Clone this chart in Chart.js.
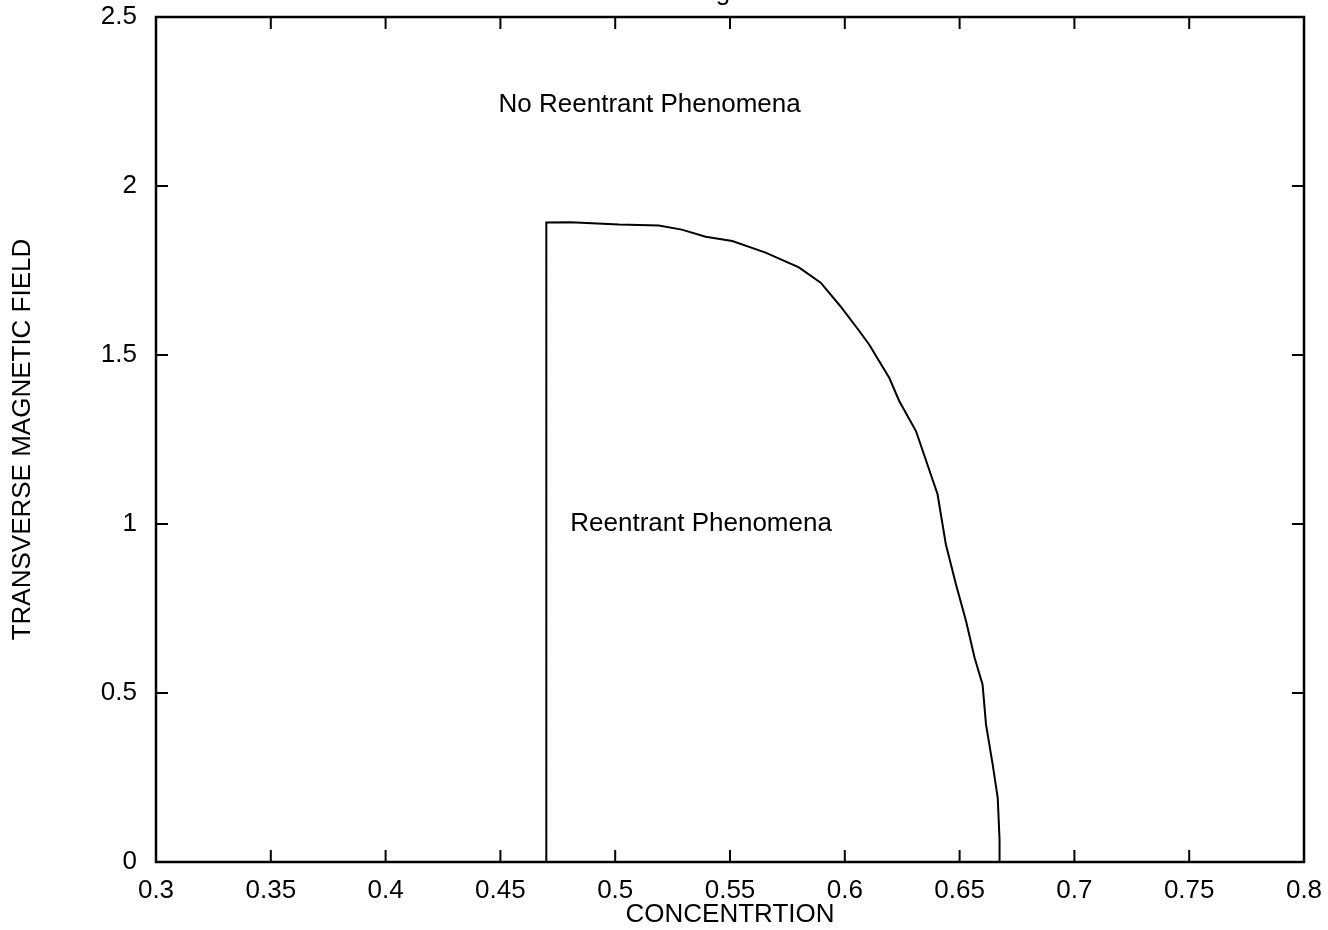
<!DOCTYPE html>
<html lang="en">
<head>
<meta charset="UTF-8" />
<title>Reentrant phase boundary</title>
<script src="https://cdn.jsdelivr.net/npm/chart.js@4"></script>
<style>
  html, body { margin: 0; padding: 0; background: #fff; }
  #wrap { width: 1328px; height: 930px; position: relative; }
</style>
</head>
<body>
<div id="wrap"><canvas id="chart"></canvas></div>
<script>
// Phase boundary (concentration vs field).
const boundaryX = [0.47, 0.47, 0.4805, 0.5016, 0.519, 0.529, 0.5394, 0.551, 0.5655, 0.580, 0.5895,
  0.598, 0.6063, 0.6106, 0.6194, 0.6237, 0.631, 0.6404, 0.644, 0.6484, 0.6528, 0.6565,
  0.66, 0.6615, 0.6644, 0.6666, 0.6674, 0.6674];
const boundaryY = [0, 1.892, 1.893, 1.886, 1.883, 1.871, 1.850, 1.837, 1.803, 1.759, 1.714,
  1.645, 1.571, 1.531, 1.432, 1.364, 1.275, 1.088, 0.940, 0.822, 0.713, 0.605,
  0.525, 0.407, 0.289, 0.190, 0.067, 0];

const xTicks = [0.3, 0.35, 0.4, 0.45, 0.5, 0.55, 0.6, 0.65, 0.7, 0.75, 0.8];
const xTickLabels = ['0.3', '0.35', '0.4', '0.45', '0.5', '0.55', '0.6', '0.65', '0.7', '0.75', '0.8'];
const yTicks = [0, 0.5, 1, 1.5, 2, 2.5];
const yTickLabels = ['0', '0.5', '1', '1.5', '2', '2.5'];

// region labels, placed in data units
const regionLabels = [
  { text: 'No Reentrant Phenomena', x: 0.515, y: 2.24 },
  { text: 'Reentrant Phenomena', x: 0.5374, y: 1.0 },
];

const FONT = '"Liberation Sans", Arial, Helvetica, sans-serif';
const FONT_SIZE = 26;
const TICK_LEN = 12;

const framePlugin = {
  id: 'frame',
  afterDatasetsDraw(chart) {
    const { ctx, chartArea: a, scales } = chart;
    ctx.save();
    ctx.strokeStyle = '#000';
    ctx.lineWidth = 2.5;
    ctx.strokeRect(a.left, a.top, a.right - a.left, a.bottom - a.top);

    // inward tick marks on all four sides
    ctx.lineWidth = 2;
    ctx.beginPath();
    xTicks.forEach((v) => {
      const px = scales.x.getPixelForValue(v);
      ctx.moveTo(px, a.bottom); ctx.lineTo(px, a.bottom - TICK_LEN);
      ctx.moveTo(px, a.top); ctx.lineTo(px, a.top + TICK_LEN);
    });
    yTicks.forEach((v) => {
      const py = scales.y.getPixelForValue(v);
      ctx.moveTo(a.left, py); ctx.lineTo(a.left + TICK_LEN, py);
      ctx.moveTo(a.right, py); ctx.lineTo(a.right - TICK_LEN, py);
    });
    ctx.stroke();

    ctx.fillStyle = '#000';
    ctx.font = `${FONT_SIZE}px ${FONT}`;
    ctx.textAlign = 'center';
    ctx.textBaseline = 'middle';
    regionLabels.forEach((l) => {
      ctx.fillText(l.text, scales.x.getPixelForValue(l.x), scales.y.getPixelForValue(l.y));
    });

    // figure caption, cut off by the top edge of the scan
    ctx.textAlign = 'left';
    ctx.textBaseline = 'alphabetic';
    ctx.fillText('Fig. 3', 694, 0);
    ctx.restore();
  },
};

// drop the label overhang padding so the plot box spans the full scan
function noOverhang(s) {
  s.paddingTop = 0;
  s.paddingBottom = 0;
  s.paddingLeft = 0;
  s.paddingRight = 0;
}

new Chart(document.getElementById('chart'), {
  type: 'scatter',
  data: {
    datasets: [{
      data: boundaryX.map((x, i) => ({ x, y: boundaryY[i] })),
      showLine: true,
      borderColor: '#000',
      borderWidth: 2,
      pointRadius: 0,
      tension: 0,
      fill: false,
    }],
  },
  options: {
    responsive: true,
    maintainAspectRatio: false,
    animation: false,
    layout: { padding: { top: 17, right: 24, bottom: 0, left: 0 } },
    plugins: { legend: { display: false }, tooltip: { enabled: false } },
    scales: {
      x: {
        type: 'linear',
        min: 0.3,
        max: 0.8,
        afterBuildTicks: (s) => { s.ticks = xTicks.map((value) => ({ value })); },
        afterFit: (s) => { s.height = 68; noOverhang(s); },
        ticks: {
          color: '#000',
          font: { family: FONT, size: FONT_SIZE },
          padding: 13,
          maxRotation: 0,
          autoSkip: false,
          callback: (v) => xTickLabels[xTicks.indexOf(+v.toFixed(2))],
        },
        grid: { display: true, drawOnChartArea: false, drawTicks: false },
        border: { display: false },
        title: {
          display: true,
          text: 'CONCENTRTION',
          color: '#000',
          font: { family: FONT, size: FONT_SIZE },
          padding: { top: 0, bottom: 0 },
        },
      },
      y: {
        type: 'linear',
        min: 0,
        max: 2.5,
        afterBuildTicks: (s) => { s.ticks = yTicks.map((value) => ({ value })); },
        afterFit: (s) => { s.width = 156; noOverhang(s); },
        ticks: {
          color: '#000',
          font: { family: FONT, size: FONT_SIZE },
          padding: 19,
          autoSkip: false,
          callback: (v) => yTickLabels[yTicks.indexOf(+v.toFixed(1))],
        },
        grid: { display: true, drawOnChartArea: false, drawTicks: false },
        border: { display: false },
        title: {
          display: true,
          text: 'TRANSVERSE MAGNETIC FIELD',
          color: '#000',
          font: { family: FONT, size: FONT_SIZE },
          padding: { top: 7, bottom: 0 },
        },
      },
    },
  },
  plugins: [framePlugin],
});
</script>
</body>
</html>
